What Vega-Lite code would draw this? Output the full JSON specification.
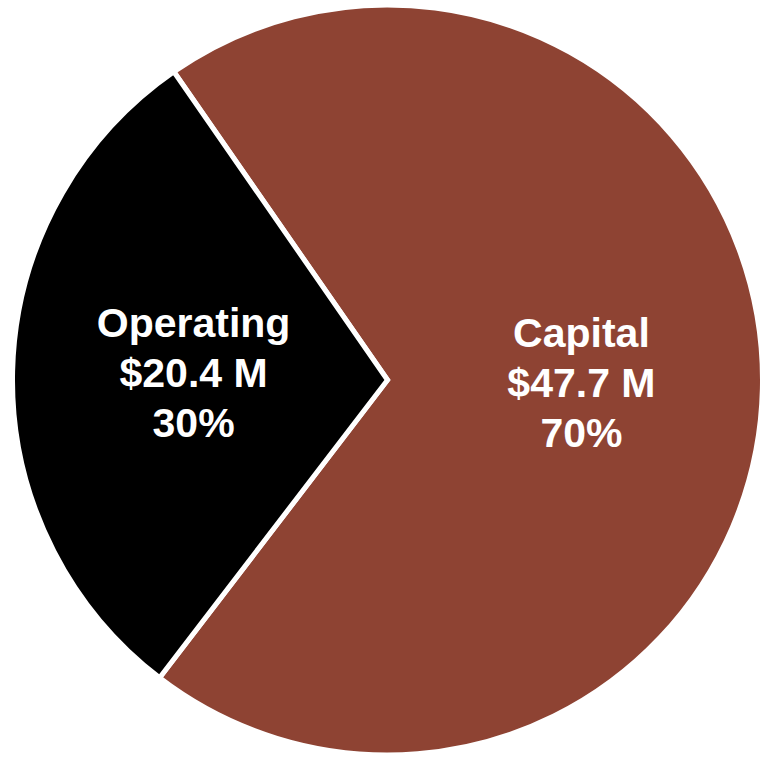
{
  "$schema": "https://vega.github.io/schema/vega-lite/v6.json",
  "width": 775,
  "height": 760,
  "autosize": {"type": "fit", "contains": "padding"},
  "padding": 0,
  "background": "white",
  "config": {"view": {"stroke": null}},
  "data": {"values": [
    {"category": "Capital", "amount": 47.7, "order": 1, "label": ["Capital", "$47.7 M", "70%"]},
    {"category": "Operating", "amount": 20.4, "order": 2, "label": ["Operating", "$20.4 M", "30%"]}
  ]},
  "encoding": {
    "theta": {"field": "amount", "type": "quantitative", "stack": true,
      "scale": {"range": [-0.606, 5.677]}},
    "order": {"field": "order", "type": "quantitative"},
    "color": {"field": "category", "type": "nominal",
      "scale": {"domain": ["Capital", "Operating"], "range": ["#8E4333", "#000000"]},
      "legend": null}
  },
  "layer": [
    {"mark": {"type": "arc", "outerRadius": 375, "stroke": "white", "strokeWidth": 5}},
    {"mark": {"type": "text", "radius": 194, "dy": -50, "font": "Liberation Sans", "fontWeight": "bold", "fontSize": 41, "lineHeight": 50, "fill": "white", "align": "center", "baseline": "middle"},
     "encoding": {"text": {"field": "label"}, "color": {"value": "white"}}}
  ]
}
